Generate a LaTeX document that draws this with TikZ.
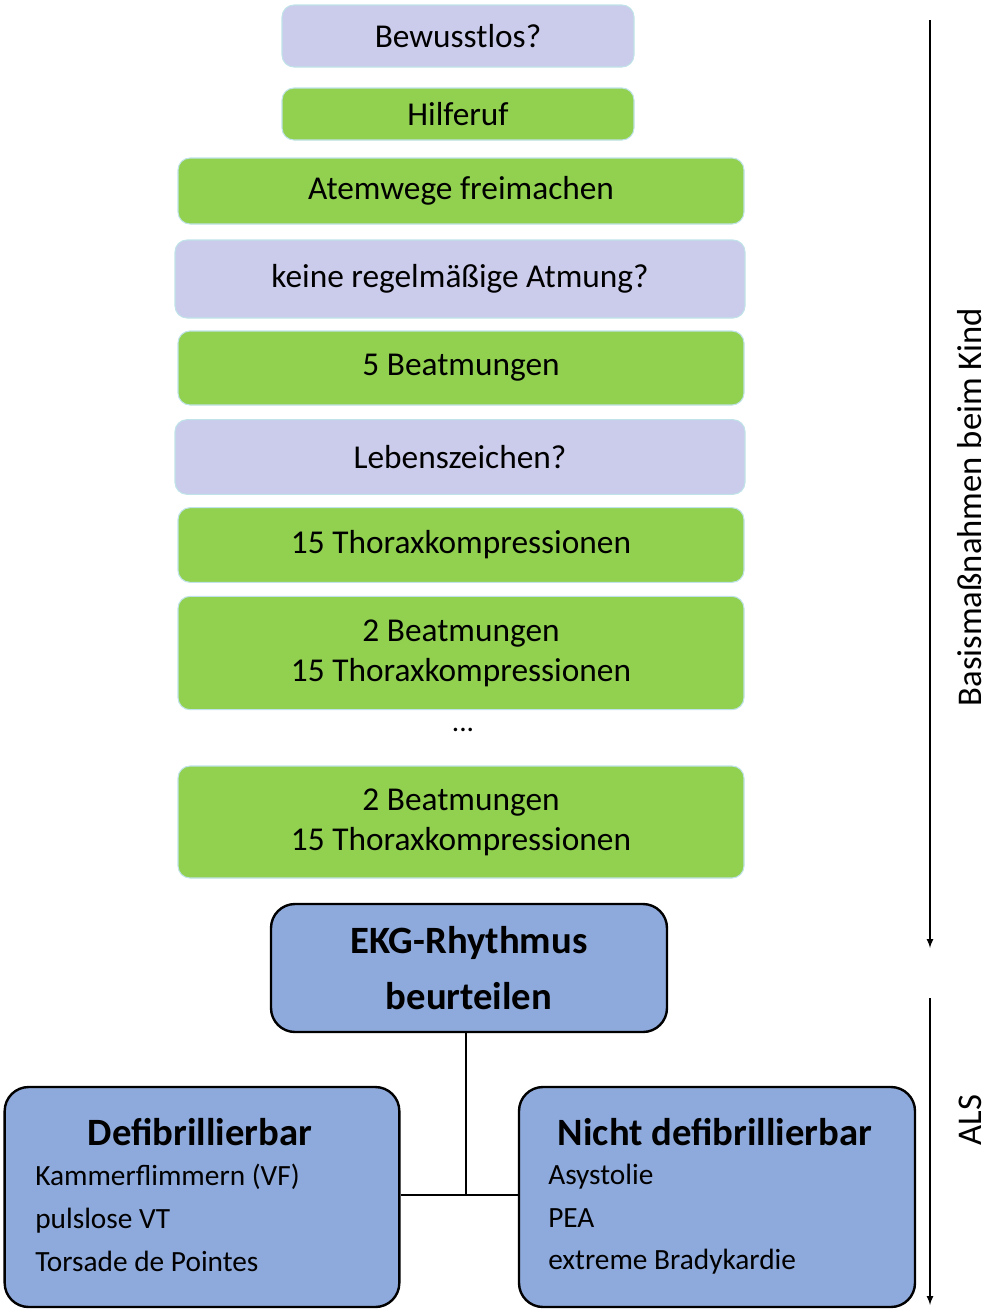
\documentclass[tikz,border=0pt]{standalone}
\usepackage{fontspec}
\setmainfont{Carlito}
\usetikzlibrary{positioning}
\definecolor{lav}{HTML}{CBCBEB}
\definecolor{grn}{HTML}{92D050}
\definecolor{blu}{HTML}{8EA9DB}
\definecolor{edg}{HTML}{BFE3E8}
\begin{document}
\begin{tikzpicture}[
    x=0.75pt, y=-0.75pt,
    step box/.style={draw=edg, thick, rounded corners=9pt, font=\fontsize{25}{30}\selectfont, inner sep=0pt, align=center},
    ask/.style={step box, fill=lav},
    act/.style={step box, fill=grn},
    als box/.style={draw=black, line width=1.8pt, fill=blu, rounded corners=18pt},
    side/.style={font=\fontsize{26}{30}\selectfont, rotate=90},
    list/.style={font=\fontsize{22}{32}\selectfont, align=left, anchor=north west, inner sep=0pt}
]
   \useasboundingbox (0,0) rectangle (992,1314);

   % Basic life support
   \node[ask, minimum width=264pt, minimum height=46.5pt] (bew) at (458,36) {Bewusstlos?};
   \node[act, minimum width=264pt, minimum height=39pt] (hilf) at (458,114) {Hilferuf};
   \node[act, minimum width=424.5pt, minimum height=49.5pt] (atem) at (461,191) {Atemwege freimachen};
   \node[ask, minimum width=427.5pt, minimum height=58.5pt] (keine) at (460,279) {keine regelmäßige Atmung?};
   \node[act, minimum width=424.5pt, minimum height=55.5pt] (beat) at (461,368) {5 Beatmungen};
   \node[ask, minimum width=427.5pt, minimum height=56pt] (leben) at (460,457) {Lebenszeichen?};
   \node[act, minimum width=424.5pt, minimum height=56pt] (thor) at (461,545) {15 Thoraxkompressionen};
   \node[act, minimum width=424.5pt, minimum height=85pt] (zyk1) at (461,653) {2 Beatmungen\\15 Thoraxkompressionen};
   \node[font=\fontsize{22}{26}\selectfont] (dots) at (463,730) {...};
   \node[act, minimum width=424.5pt, minimum height=84pt] (zyk2) at (461,822) {2 Beatmungen\\15 Thoraxkompressionen};

   % Advanced life support
   \node[als box, minimum width=297pt, minimum height=96pt, align=center,
         font=\bfseries\fontsize{29}{42}\selectfont] (ekg) at (469,968) {EKG-Rhythmus\\beurteilen};
   \node[als box, minimum width=296pt, minimum height=165pt] (defi) at (202,1197) {};
   \node[als box, minimum width=297pt, minimum height=165pt] (nicht) at (717,1197) {};
   \node[font=\bfseries\fontsize{29}{34}\selectfont] (defit) at (200,1132) {Defibrillierbar};
   \node[list] (defil) at (35,1164) {Kammerflimmern (VF)\\pulslose VT\\Torsade de Pointes};
   \node[font=\bfseries\fontsize{29}{34}\selectfont] (nichtt) at (715,1132) {Nicht defibrillierbar};
   \node[list] (nichtl) at (548,1164) {Asystolie\\PEA\\extreme Bradykardie};

   \coordinate (knot) at (466,1195);
   \draw[line width=1.5pt] (ekg.south -| knot) -- (knot);
   \draw[line width=1.5pt] (defi.east |- knot) -- (nicht.west |- knot);

   % Phases
   \coordinate (a1) at (930,20);
   \coordinate (a2) at (930,948);
   \coordinate (b1) at (930,998);
   \coordinate (b2) at (930,1305);
   \draw[line width=1.3pt, -latex] (a1) -- (a2);
   \draw[line width=1.3pt, -latex] (b1) -- (b2);
   \node[side] (bls) at (970,507) {Basismaßnahmen beim Kind};
   \node[side] (als) at (970,1120) {ALS};
\end{tikzpicture}
\end{document}
